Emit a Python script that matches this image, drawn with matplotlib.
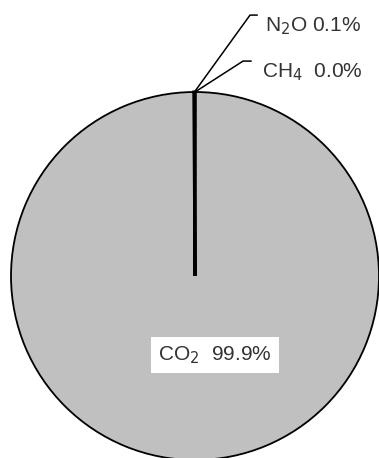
import matplotlib
matplotlib.use("Agg")
import matplotlib.pyplot as plt
import numpy as np

gases = ["CO$_2$", "N$_2$O", "CH$_4$"]
shares = [99.9, 0.1, 0.0]
share_labels = ["99.9%", "0.1%", "0.0%"]

plt.rcParams['font.family'] = ['Liberation Sans Narrow', 'Liberation Sans', 'DejaVu Sans']
plt.rcParams['mathtext.fontset'] = 'custom'
plt.rcParams['mathtext.rm'] = 'Liberation Sans Narrow'
plt.rcParams['mathtext.it'] = 'Liberation Sans Narrow'

W, H = 379, 458
fig = plt.figure(figsize=(W/100, H/100), dpi=100)
cx, cy, r = 195, 276, 184
ax = fig.add_axes([(cx - r)/W, (H - cy - r)/H, 2*r/W, 2*r/H])

wedges, _ = ax.pie(shares, startangle=90, counterclock=False, radius=1,
                   colors=['#c0c0c0', '#c0c0c0', '#c0c0c0'],
                   wedgeprops=dict(edgecolor='black', linewidth=1.3))
for w in wedges[1:]:
    w.set_linewidth(2.2)
ax.set_xlim(-1, 1)
ax.set_ylim(-1, 1)
ax.set_aspect('equal')
ax.axis('off')

tc = '#333333'
fs = 15
# CO2 label inside
ax.text(0.11, -0.43, f"{gases[0]}  {share_labels[0]}", ha='center', va='center',
        fontsize=fs, color=tc,
        bbox=dict(facecolor='white', edgecolor='none', boxstyle='square,pad=0.35'))

# leader lines for small slices
elbows = [(0.299, 1.418, 0.337), (0.261, 1.168, 0.304)]
texts_pos = [(0.38, 1.36), (0.365, 1.11)]
for i, (ex, ey, hx) in enumerate(elbows):
    ang = np.deg2rad((wedges[i+1].theta1 + wedges[i+1].theta2) / 2)
    px, py = np.cos(ang), np.sin(ang)
    ax.plot([px, ex, hx], [py, ey, ey], color='black', lw=1.1, clip_on=False,
            solid_joinstyle='miter')
    tx, ty = texts_pos[i]
    sep = " " if i == 0 else "  "
    ax.text(tx, ty, f"{gases[i+1]}{sep}{share_labels[i+1]}", ha='left', va='center',
            fontsize=fs, color=tc, clip_on=False)

fig.savefig("out.png", dpi=100)
